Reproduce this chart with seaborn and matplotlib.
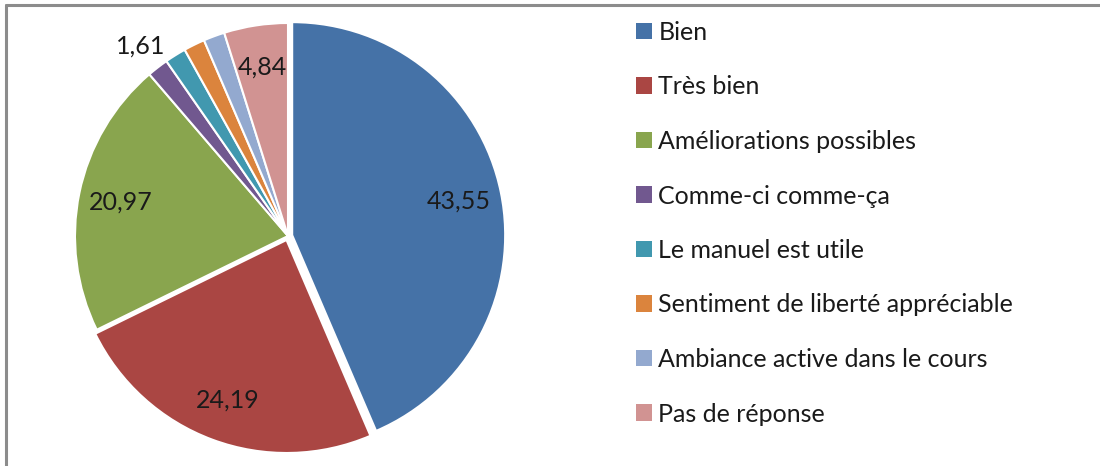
import seaborn as sns
import matplotlib.pyplot as plt
from matplotlib.patches import Patch
from matplotlib.lines import Line2D
import numpy as np

sns.set_theme(style="white")
plt.rcParams['font.family'] = ['Lato', 'DejaVu Sans']

# Data
categories = ["Bien", "Très bien", "Améliorations possibles", "Comme-ci comme-ça",
              "Le manuel est utile", "Sentiment de liberté appréciable",
              "Ambiance active dans le cours", "Pas de réponse"]
values = [43.55, 24.19, 20.97, 1.61, 1.61, 1.61, 1.61, 4.84]
shown = [True, True, True, True, False, False, False, True]
colors = ["#4572A7", "#AA4643", "#89A54E", "#71588F",
          "#4198AF", "#DB843D", "#93A9CF", "#D19392"]

PALETTE = sns.color_palette(colors)

fig = plt.figure(figsize=(11, 4.66), dpi=100)

# pie axes, centre ~ (288, 236) px, radius ~213 px
R = 213
cx, cy = 288, 466 - 236
ax = fig.add_axes([(cx - R) / 1100, (cy - R) / 466, 2 * R / 1100, 2 * R / 466])
wedges, _ = ax.pie(
    values,
    colors=PALETTE,
    startangle=90,
    counterclock=False,
    explode=[0.02, 0.02, 0, 0, 0, 0, 0, 0],
    wedgeprops=dict(edgecolor="white", linewidth=1.5),
)
ax.set_xlim(-1, 1)
ax.set_ylim(-1, 1)
ax.set_aspect("equal")
ax.axis("off")

# value labels
for w, v, s in zip(wedges, values, shown):
    if not s:
        continue
    ang = np.deg2rad((w.theta1 + w.theta2) / 2)
    r = 0.8 if v > 3 else 1.13
    x = w.center[0] + r * np.cos(ang)
    y = w.center[1] + r * np.sin(ang)
    ax.text(x, y, f"{v:.2f}".replace(".", ","), ha="center", va="center",
            fontsize=18, color="#1a1a1a", clip_on=False)

handles = [Patch(facecolor=c, edgecolor="none") for c in colors]
fig.legend(handles, categories, loc="upper left", bbox_to_anchor=(636 / 1100, 1 - 21 / 466),
           frameon=False, fontsize=18, labelcolor="#1a1a1a", labelspacing=1.26,
           handlelength=0.64, handleheight=0.64, handletextpad=0.26,
           borderaxespad=0, borderpad=0)

# grey frame (top and left edges)
fig.add_artist(Line2D([5.5 / 1100, 1], [1 - 5 / 466, 1 - 5 / 466], color="#8c8c8c", lw=2.2))
fig.add_artist(Line2D([5.5 / 1100, 5.5 / 1100], [0, 1 - 5 / 466], color="#8c8c8c", lw=2.2))

plt.savefig("out.png", dpi=100)
plt.close()
